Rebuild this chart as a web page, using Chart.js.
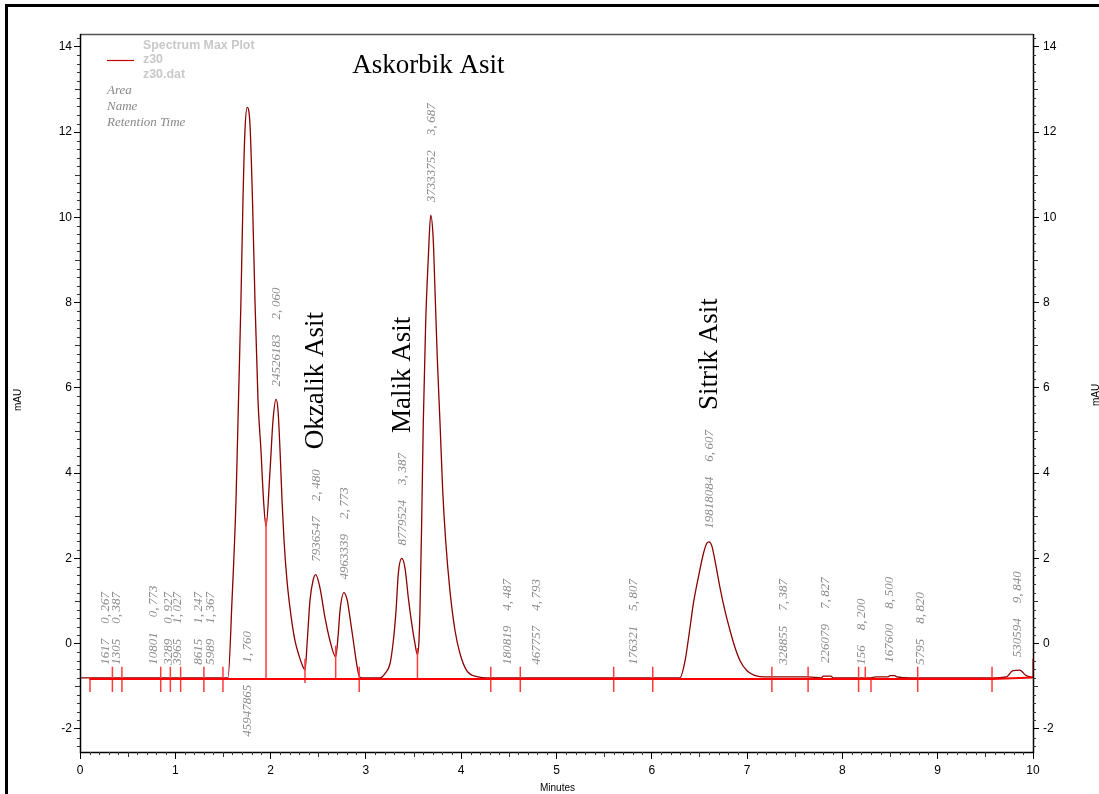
<!DOCTYPE html>
<html>
<head>
<meta charset="utf-8">
<script src="https://cdn.jsdelivr.net/npm/chart.js@4"></script>
<style>
  html, body { margin: 0; padding: 0; background: #fff; }
  #wrap { position: relative; width: 1099px; height: 794px; }
</style>
</head>
<body>
<div id="wrap"><canvas id="chart" width="1099" height="794"></canvas></div>
<script>
// chromatogram trace (minutes, mAU)
const signalTime = [0, 0.5, 1.0, 1.553, 1.595, 1.637, 1.663, 1.689, 1.710, 1.731, 1.755, 1.784, 1.810, 1.836, 1.868, 1.899, 1.926, 1.952,
  1.994, 2.025, 2.057, 2.078, 2.099, 2.120, 2.141, 2.172, 2.214, 2.256, 2.298, 2.330, 2.361,
  2.385, 2.413, 2.445, 2.474, 2.518, 2.571, 2.623, 2.683,
  2.710, 2.728, 2.770, 2.805, 2.833, 2.868, 2.903, 2.931, 2.959, 3.148,
  3.200, 3.253, 3.288, 3.316, 3.340, 3.376, 3.410, 3.445, 3.481, 3.515, 3.541,
  3.557, 3.568, 3.585, 3.602, 3.627, 3.655, 3.680, 3.707, 3.725, 3.749, 3.778, 3.806, 3.837, 3.882, 3.935, 3.987, 4.058, 4.163, 4.302, 5.0,
  6.296, 6.349, 6.401, 6.436, 6.488, 6.541, 6.576, 6.600, 6.629, 6.663, 6.716, 6.768, 6.821, 6.873, 6.926, 6.996, 7.065, 7.135, 7.240,
  7.640, 7.780, 7.800, 7.880, 7.900, 8.300, 8.350, 8.480, 8.500, 8.550, 8.570, 8.720,
  9.620, 9.720, 9.790, 9.860, 9.930, 10.0];
const signalMau = [-0.80, -0.80, -0.80, -0.80, 1.01, 3.36, 5.70, 8.05, 10.40, 12.04, 12.58, 12.16, 10.40, 8.05, 5.70, 4.53, 3.36, 2.75,
  4.06, 5.23, 5.73, 5.47, 4.53, 3.36, 2.42, 1.48, 0.66, 0.07, -0.28, -0.49, -0.61,
  0.07, 1.01, 1.48, 1.62, 1.31, 0.61, 0.07, -0.31,
  0.23, 0.77, 1.20, 1.01, 0.61, 0.07, -0.47, -0.77, -0.80, -0.80,
  -0.70, -0.47, 0.07, 0.77, 1.64, 2.00, 1.78, 1.08, 0.47, 0.00, -0.26,
  0.07, 0.85, 2.82, 5.16, 7.51, 9.06, 10.05, 9.46, 8.29, 6.71, 5.16, 3.59, 2.42, 1.24, 0.31, -0.23, -0.63, -0.77, -0.80, -0.80,
  -0.80, -0.40, 0.38, 0.94, 1.55, 2.11, 2.35, 2.39, 2.30, 1.95, 1.31, 0.77, 0.31, -0.09, -0.40, -0.63, -0.73, -0.77, -0.78,
  -0.78, -0.80, -0.76, -0.76, -0.80, -0.80, -0.78, -0.78, -0.75, -0.75, -0.78, -0.80,
  -0.80, -0.78, -0.63, -0.62, -0.75, -0.79];

// integration baseline and event marks
const baselineTime = [0.1, 9.57, 10.0];
const baselineMau = [-0.83, -0.83, -0.79];
const eventTime = [0.105, 0.34, 0.44, 0.847, 0.948, 1.056, 1.30, 1.50, 1.952, 2.361, 2.683, 2.93, 3.541,
  4.31, 4.62, 5.60, 6.01, 7.26, 7.64, 8.17, 8.24, 8.30, 8.79, 9.57, 10.0];
const eventLow = [-1.13, -1.13, -1.13, -1.13, -1.13, -1.13, -1.13, -1.13, -0.83, -0.92, -0.83, -1.13, -0.83,
  -1.13, -1.13, -1.13, -1.13, -1.13, -1.13, -1.13, -0.83, -1.13, -1.13, -1.13, -0.79];
const eventHigh = [-0.83, -0.54, -0.54, -0.54, -0.54, -0.54, -0.54, -0.54, 2.95, -0.35, -0.05, -0.54, -0.10,
  -0.54, -0.54, -0.54, -0.54, -0.54, -0.54, -0.54, -0.54, -0.83, -0.54, -0.54, -0.35];

// peak table: retention time and area
const peakRT = ['0,267', '0,387', '0,773', '0,927', '1,027', '1,247', '1,367', '1,760', '2,060', '2,480', '2,773', '3,387', '3,687',
  '4,487', '4,793', '5,807', '6,607', '7,387', '7,827', '8,200', '8,500', '8,820', '9,840'];
const peakArea = ['1617', '1305', '10801', '3289', '3965', '8615', '5989', '45947865', '24526183', '7936547', '4963339', '8779524', '37333752',
  '180819', '467757', '176321', '19818084', '328855', '226079', '156', '167600', '5795', '530594'];

const acidNames = ['Okzalik Asit', 'Malik Asit', 'Sitrik Asit'];
const acidRT = ['2,480', '3,387', '6,607'];
const titleName = 'Askorbik Asit';
const titleRT = '3,687';

const yTicks = [-2, 0, 2, 4, 6, 8, 10, 12, 14];

const toNum = s => parseFloat(s.replace(',', '.'));
// the printer leaves a little air after the decimal comma
const showRT = s => s.replace(',', ',\u2009');

function peakTop(t) {
  let best = -0.80;
  signalTime.forEach((st, i) => {
    if (Math.abs(st - t) <= 0.035 && signalMau[i] > best) best = signalMau[i];
  });
  return best;
}

const decor = {
  id: 'decor',
  beforeDraw(chart) {
    const c = chart.ctx;
    c.save();
    c.fillStyle = '#fff';
    c.fillRect(0, 0, chart.width, chart.height);
    c.strokeStyle = '#000';
    c.lineWidth = 3;
    c.beginPath();
    c.moveTo(6.5, chart.height);
    c.lineTo(6.5, 5.5);
    c.lineTo(chart.width, 5.5);
    c.stroke();
    c.restore();
  },
  afterDraw(chart) {
    const c = chart.ctx;
    const a = chart.chartArea;
    const x = chart.scales.x, y = chart.scales.y;
    c.save();
    // frame
    c.lineWidth = 1.5;
    c.strokeStyle = '#555';
    c.beginPath(); c.moveTo(a.left, a.top + 0.5); c.lineTo(a.right, a.top + 0.5); c.stroke();
    c.strokeStyle = '#000';
    c.beginPath();
    c.moveTo(a.left + 0.5, a.top); c.lineTo(a.left + 0.5, a.bottom + 0.5); c.lineTo(a.right + 0.5, a.bottom + 0.5); c.lineTo(a.right + 0.5, a.top);
    c.stroke();

    // minor ticks
    c.lineWidth = 1;
    c.strokeStyle = '#333';
    c.beginPath();
    for (let i = -12; i <= 71; i++) {
      if (i % 10 === 0) continue;
      const len = i % 5 === 0 ? 5 : 3;
      const py = Math.round(y.getPixelForValue(i / 5)) + 0.5;
      c.moveTo(a.left - len, py); c.lineTo(a.left, py);
      c.moveTo(a.right, py); c.lineTo(a.right + len, py);
    }
    for (let i = 1; i < 100; i++) {
      if (i % 10 === 0) continue;
      const len = i % 5 === 0 ? 5 : 3;
      const px = Math.round(x.getPixelForValue(i / 10)) + 0.5;
      c.moveTo(px, a.bottom); c.lineTo(px, a.bottom + len);
    }
    c.stroke();

    // axis titles
    c.fillStyle = '#000';
    c.font = '10px "Liberation Sans", Arial, sans-serif';
    c.textAlign = 'center';
    c.textBaseline = 'middle';
    c.fillText('Minutes', (a.left + a.right) / 2 + 1, 788);
    [[18, 400], [1096, 395]].forEach(([tx, ty]) => {
      c.save(); c.translate(tx, ty); c.rotate(-Math.PI / 2); c.fillText('mAU', 0, 0); c.restore();
    });

    // legend block
    c.strokeStyle = '#c00000';
    c.lineWidth = 1.2;
    c.beginPath(); c.moveTo(107, 60.5); c.lineTo(134, 60.5); c.stroke();
    c.fillStyle = '#c8c8c8';
    c.textAlign = 'left';
    c.font = 'bold 12.4px "Liberation Sans", Arial, sans-serif';
    c.fillText('Spectrum Max Plot', 143, 46);
    c.fillText('z30', 143, 60);
    c.fillText('z30.dat', 143, 75);
    c.fillStyle = '#888';
    c.font = 'italic 13px "Liberation Serif", "Times New Roman", serif';
    c.fillText('Area', 107, 91);
    c.fillText('Name', 107, 107);
    c.fillText('Retention Time', 107, 123);

    // peak labels
    c.font = 'italic 13px "Liberation Serif", "Times New Roman", serif';
    c.fillStyle = '#8c8c8c';
    const rotText = (txt, px, pyBottom) => {
      c.save(); c.translate(px, pyBottom); c.rotate(-Math.PI / 2);
      c.textAlign = 'left'; c.textBaseline = 'middle';
      c.fillText(txt, 0, 0); c.restore();
    };
    const rtTopPx = {};
    peakRT.forEach((rt, i) => {
      const t = toNum(rt);
      const px = x.getPixelForValue(t);
      const base = y.getPixelForValue(peakTop(t));
      const label = showRT(rt);
      const wA = c.measureText(peakArea[i]).width;
      const wR = c.measureText(label).width;
      let aBottom = base - 13;
      let rBottom = aBottom - wA - 15;
      if (rBottom - wR < a.top + 5) {
        // too tall: time above baseline, area below
        const bl = y.getPixelForValue(-0.80);
        rBottom = bl - 15;
        rotText(label, px, rBottom);
        c.save(); c.translate(px, bl + 7); c.rotate(-Math.PI / 2);
        c.textAlign = 'right'; c.textBaseline = 'middle';
        c.fillText(peakArea[i], 0, 0); c.restore();
        rtTopPx[rt] = rBottom - wR;
        return;
      }
      rotText(peakArea[i], px, aBottom);
      rotText(label, px, rBottom);
      rtTopPx[rt] = rBottom - wR;
    });

    // compound names
    c.fillStyle = '#000';
    c.font = '27px "Liberation Serif", "Times New Roman", serif';
    acidNames.forEach((nm, i) => {
      const px = x.getPixelForValue(toNum(acidRT[i]));
      rotText(nm, px, rtTopPx[acidRT[i]] - 20);
    });
    c.textAlign = 'center';
    c.textBaseline = 'alphabetic';
    c.fillText(titleName, x.getPixelForValue(toNum(titleRT)) - 3, 73);
    c.restore();
  }
};

const pts = (xs, ys) => xs.map((t, i) => ({ x: t, y: ys[i] }));
const eventPts = [];
eventTime.forEach((t, i) => {
  eventPts.push({ x: t, y: eventLow[i] }, { x: t, y: eventHigh[i] }, { x: t, y: null });
});

const yScale = (pos, width) => ({
  type: 'linear',
  position: pos,
  min: -2.54,
  max: 14.3,
  afterBuildTicks: s => { s.ticks = yTicks.map(v => ({ value: v })); },
  afterFit: s => { s.width = width; },
  border: { display: false },
  grid: { drawOnChartArea: false, tickLength: 6, color: '#000', lineWidth: 1 },
  ticks: {
    padding: pos === 'left' ? 2 : 4,
    color: '#000',
    font: { family: '"Liberation Sans", Arial, sans-serif', size: 12 }
  }
});

new Chart(document.getElementById('chart'), {
  type: 'line',
  data: {
    datasets: [
      {
        data: pts(baselineTime, baselineMau),
        borderColor: '#ff0000',
        borderWidth: 2,
        pointRadius: 0,
        order: 0
      },
      {
        data: eventPts,
        borderColor: '#ff3b3b',
        borderWidth: 1.5,
        pointRadius: 0,
        spanGaps: false,
        order: 0
      },
      {
        data: pts(signalTime, signalMau),
        borderColor: '#8b0000',
        borderWidth: 1.3,
        pointRadius: 0,
        cubicInterpolationMode: 'monotone',
        order: 1
      }
    ]
  },
  options: {
    responsive: false,
    animation: false,
    parsing: false,
    layout: { padding: { top: 34, left: 0, right: 0, bottom: 0 } },
    plugins: { legend: { display: false }, tooltip: { enabled: false } },
    scales: {
      x: {
        type: 'linear',
        min: 0,
        max: 10,
        afterFit: s => { s.height = 42; },
        border: { display: false },
        grid: { drawOnChartArea: false, tickLength: 7, color: '#000' },
        ticks: {
          stepSize: 1,
          padding: 4,
          color: '#000',
          font: { family: '"Liberation Sans", Arial, sans-serif', size: 12 }
        }
      },
      y: yScale('left', 80),
      y2: yScale('right', 66)
    }
  },
  plugins: [decor]
});
</script>
</body>
</html>
